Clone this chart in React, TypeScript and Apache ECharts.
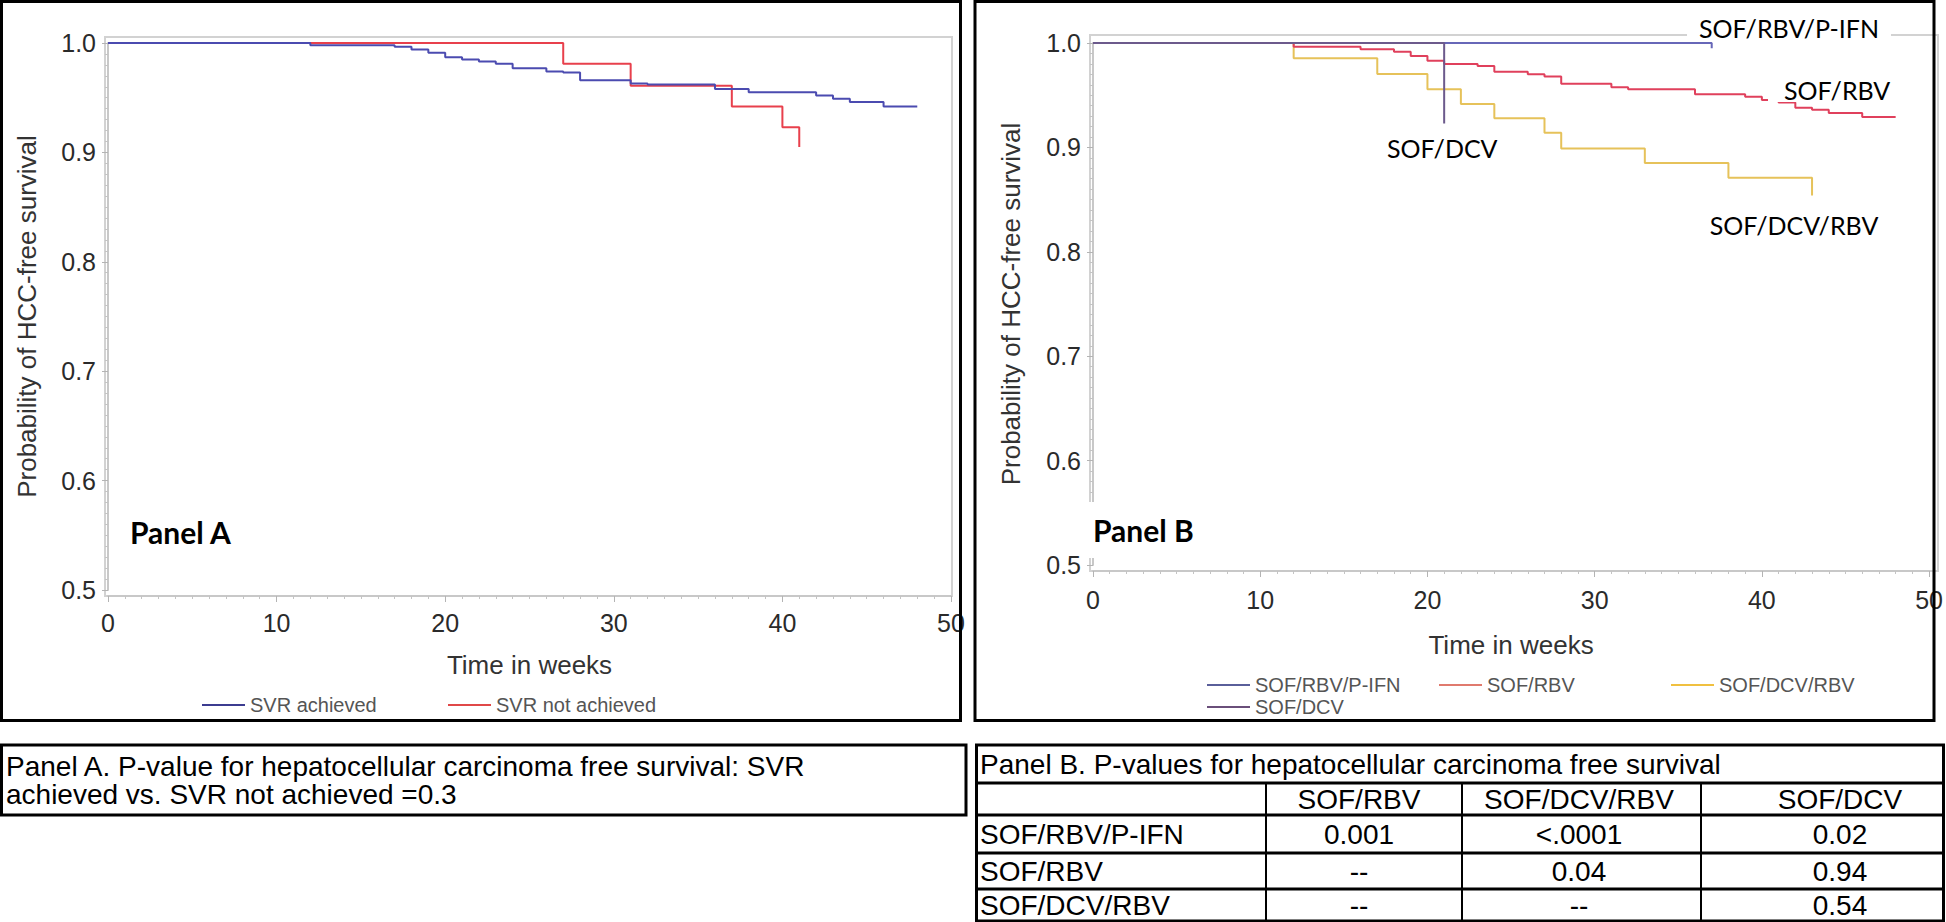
import React, { useEffect, useRef } from 'react';
import * as echarts from 'echarts';

// ---------- data ----------
const svrAchieved: [number, number][] = [
  [0, 1], [12, 0.998], [17, 0.9965], [18, 0.994], [19, 0.991], [20, 0.987], [21, 0.985],
  [22, 0.983], [23, 0.981], [24, 0.977], [26, 0.974], [27, 0.973], [28, 0.966], [31, 0.963],
  [32, 0.962], [36, 0.958], [38, 0.955], [42, 0.952], [43, 0.949], [44, 0.946], [46, 0.942],
  [48, 0.942],
];
const svrNotAchieved: [number, number][] = [
  [0, 1], [27, 0.981], [31, 0.961], [37, 0.942], [40, 0.923], [41, 0.905],
];
const sofRbvPifn: [number, number][] = [[0, 1], [37, 0.995]];
const sofRbv: [number, number][] = [
  [0, 1], [12, 0.9965], [16, 0.994], [18, 0.9917], [19, 0.9875], [20, 0.983], [21, 0.98],
  [23, 0.978], [24, 0.9725], [26, 0.97], [27, 0.968], [28, 0.961], [31, 0.9575], [32, 0.9556],
  [36, 0.951], [39, 0.9486], [40, 0.9454], [41, 0.943], [42, 0.938], [43, 0.936], [44, 0.933],
  [46, 0.929], [48, 0.929],
];
const sofDcvRbv: [number, number][] = [
  [0, 1], [12, 0.9853], [17, 0.9703], [20, 0.9556], [22, 0.9416], [24, 0.928], [27, 0.914],
  [28, 0.899], [33, 0.885], [38, 0.871], [43, 0.854],
];
const sofDcv: [number, number][] = [[0, 1], [21, 0.923]];

const panelANames = ['SVR achieved', 'SVR not achieved'];
const panelBRow1Names = ['SOF/RBV/P-IFN', 'SOF/RBV', 'SOF/DCV/RBV'];
const panelBRow2Names = ['SOF/DCV'];

const tableALines = [
  'Panel A. P-value for hepatocellular carcinoma free survival: SVR',
  'achieved vs. SVR not achieved =0.3',
];
const tableBTitle = 'Panel B. P-values for hepatocellular carcinoma free survival';
const tableBCols = ['SOF/RBV', 'SOF/DCV/RBV', 'SOF/DCV'];
const tableBRows = ['SOF/RBV/P-IFN', 'SOF/RBV', 'SOF/DCV/RBV'];
const tableBValues = [
  ['0.001', '<.0001', '0.02'],
  ['--', '0.04', '0.94'],
  ['--', '--', '0.54'],
];

// ---------- styles ----------
const FONT = "'Liberation Sans', Arial, sans-serif";
const CAL = "Lato, 'Open Sans', sans-serif";
const lineColors: Record<string, string> = {
  'SVR achieved': '#4b4bb0',
  'SVR not achieved': '#e8404c',
  'SOF/RBV/P-IFN': '#6767b8',
  'SOF/RBV': '#e0405c',
  'SOF/DCV/RBV': '#e6c25a',
  'SOF/DCV': '#6c5a8c',
};
const legendColors: Record<string, string> = {
  'SVR achieved': '#3c3c90',
  'SVR not achieved': '#e04848',
  'SOF/RBV/P-IFN': '#5a5f9a',
  'SOF/RBV': '#e07a6e',
  'SOF/DCV/RBV': '#f0c040',
  'SOF/DCV': '#6a4f7a',
};

function xAxis(gridIndex: number, nameGap: number, margin: number) {
  return {
    gridIndex, type: 'value', min: 0, max: 50, interval: 10, offset: 6,
    name: 'Time in weeks', nameLocation: 'middle', nameGap,
    nameTextStyle: { fontFamily: FONT, fontSize: 26, color: '#333' },
    axisLine: { show: true, lineStyle: { color: '#c8c8c8', width: 2 } },
    axisTick: { show: true, length: 6, lineStyle: { color: '#b4b4b4', width: 1 } },
    minorTick: { show: true, splitNumber: 10, length: 3, lineStyle: { color: '#c4c4c4', width: 1 } },
    axisLabel: { fontFamily: FONT, fontSize: 25, color: '#2a2a2a', margin },
    splitLine: { show: false },
    minorSplitLine: { show: false },
  };
}
function yAxis(gridIndex: number, nameGap: number) {
  return {
    gridIndex, type: 'value', min: 0.5, max: 1.0, interval: 0.1, offset: 3,
    name: 'Probability of HCC-free survival', nameLocation: 'middle', nameGap,
    nameTextStyle: { fontFamily: FONT, fontSize: 26, color: '#333' },
    axisLine: { show: true, lineStyle: { color: '#c8c8c8', width: 2 } },
    axisTick: { show: true, length: 6, lineStyle: { color: '#b4b4b4', width: 1 } },
    minorTick: { show: true, splitNumber: 10, length: 3, lineStyle: { color: '#c4c4c4', width: 1 } },
    axisLabel: { fontFamily: FONT, fontSize: 25, color: '#2a2a2a', margin: 9, formatter: (v: number) => v.toFixed(1) },
    splitLine: { show: false },
    minorSplitLine: { show: false },
  };
}
function series(name: string, data: [number, number][], axis: number, z = 2) {
  return {
    type: 'line', name, data, xAxisIndex: axis, yAxisIndex: axis, step: 'end',
    symbol: 'none', showSymbol: false, silent: true, z,
    lineStyle: { color: lineColors[name], width: 2 },
    itemStyle: { color: lineColors[name] },
  };
}
function legend(names: string[], left: number, top: number, textWidth: number) {
  return {
    left, top, padding: 0, itemWidth: 43, itemHeight: 2, itemGap: 8, icon: 'rect',
    selectedMode: false, orient: 'horizontal',
    data: names.map((n) => ({ name: n, itemStyle: { color: legendColors[n] } })),
    textStyle: { fontFamily: FONT, fontSize: 20, color: '#555', width: textWidth, lineHeight: 16 },
  };
}
function text(t: string, x: number, y: number, o: any = {}) {
  return {
    type: 'text', x, y, z: o.z ?? 100,
    style: {
      text: t, fill: o.fill ?? '#000', fontFamily: o.fontFamily ?? FONT, fontSize: o.fontSize ?? 28,
      fontWeight: o.fontWeight ?? 'normal', textAlign: o.align ?? 'left', textVerticalAlign: 'middle',
      ...(o.bg ? { backgroundColor: o.bg, padding: o.padding, lineHeight: o.lineHeight } : {}),
    },
  };
}
function line(x1: number, y1: number, x2: number, y2: number, w = 3) {
  return { type: 'line', z: 60, shape: { x1, y1, x2, y2 }, style: { stroke: '#000', lineWidth: w } };
}
function rect(x: number, y: number, width: number, height: number, stroke: string, lw: number, z: number) {
  return { type: 'rect', z, shape: { x, y, width, height }, style: { fill: 'none', stroke, lineWidth: lw } };
}

export default function App() {
  const ref = useRef<HTMLDivElement>(null);
  useEffect(() => {
    document.body.style.margin = '0';
    const chart = echarts.init(ref.current!, null, { renderer: 'svg' });

    const tableBRowY = [834, 871, 905];
    const tableBColX = [1359, 1579, 1840];
    const tableGraphics: any[] = [
      rect(1.5, 745, 964.5, 70, '#000', 3, 60),
      text(tableALines[0], 6, 766, { fontSize: 28 }),
      text(tableALines[1], 6, 794, { fontSize: 28 }),
      rect(976.5, 745, 967, 176, '#000', 3, 60),
      line(976, 783, 1944, 783),
      line(976, 815, 1944, 815),
      line(976, 853, 1944, 853),
      line(976, 889, 1944, 889),
      line(1266, 783, 1266, 922, 2),
      line(1462, 783, 1462, 922, 2),
      line(1701, 783, 1701, 922, 2),
      text(tableBTitle, 980, 764, { fontSize: 28 }),
      ...tableBCols.map((c, i) => text(c, tableBColX[i], 799, { fontSize: 28, align: 'center' })),
      ...tableBRows.map((r, i) => text(r, 980, tableBRowY[i], { fontSize: 28 })),
      ...tableBValues.flatMap((row, i) =>
        row.map((v, j) => text(v, tableBColX[j], tableBRowY[i], { fontSize: 28, align: 'center' }))),
    ];

    const option: any = {
      animation: false,
      grid: [
        { left: 108, top: 43, width: 843, height: 547 },
        { left: 1093, top: 43, width: 842, height: 522 },
      ],
      xAxis: [xAxis(0, 56, 14), xAxis(1, 61, 16)],
      yAxis: [yAxis(0, 65), yAxis(1, 66)],
      legend: [
        legend(panelANames, 202, 695, 190),
        legend(panelBRow1Names, 1207, 675, 176),
        legend(panelBRow2Names, 1207, 697, 176),
      ],
      series: [
        series('SVR achieved', svrAchieved, 0, 3),
        series('SVR not achieved', svrNotAchieved, 0, 2),
        series('SOF/RBV/P-IFN', sofRbvPifn, 1, 2),
        series('SOF/RBV', sofRbv, 1, 3),
        series('SOF/DCV/RBV', sofDcvRbv, 1, 2),
        series('SOF/DCV', sofDcv, 1, 4),
      ],
      graphic: [
        // plot frames
        rect(105, 37, 847, 559, '#d2d2d2', 2, 0),
        rect(1090, 35, 848, 536, '#d2d2d2', 2, 0),
        // panel borders
        rect(1.5, 1.5, 959, 719, '#000', 3, 60),
        rect(975, 1.5, 959, 719, '#000', 3, 60),
        // annotations
        text('Panel A', 130, 532, { fontFamily: CAL, fontSize: 30, fontWeight: 'bold' }),
        text('Panel B', 1081, 530, {
          fontFamily: CAL, fontSize: 30, fontWeight: 'bold', bg: '#fff', padding: [18, 4, 10, 12], lineHeight: 28,
        }),
        text('SOF/RBV/P-IFN', 1789, 28, {
          fontFamily: CAL, fontSize: 25, align: 'center', bg: '#fff', padding: [0, 12, 0, 12], lineHeight: 24,
        }),
        text('SOF/RBV', 1768, 90, {
          fontFamily: CAL, fontSize: 25, bg: '#fff', padding: [0, 4, 0, 16], lineHeight: 24,
        }),
        text('SOF/DCV', 1387, 148, { fontFamily: CAL, fontSize: 25 }),
        text('SOF/DCV/RBV', 1794, 225, { fontFamily: CAL, fontSize: 25, align: 'center' }),
        ...tableGraphics,
      ],
    };
    chart.setOption(option);
    return () => chart.dispose();
  }, []);
  return <div ref={ref} style={{ width: 1946, height: 922 }} />;
}
